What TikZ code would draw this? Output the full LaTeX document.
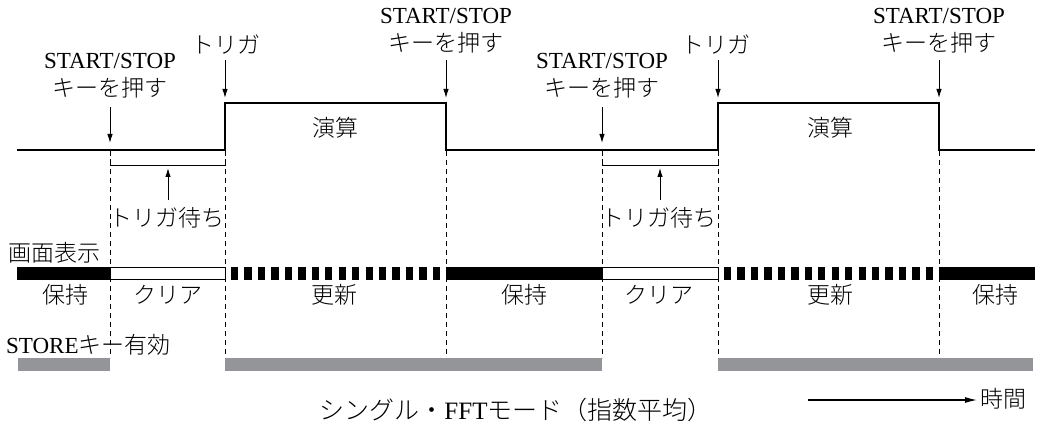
\documentclass[tikz,border=0pt]{standalone}
\usepackage{fontspec}
\setmainfont{Liberation Serif}
\newfontfamily\cjk{Noto Sans CJK JP}[UprightFont={* Light}]
\usetikzlibrary{arrows.meta}
\newcommand\jp[1]{{\cjk #1}}
\definecolor{storegray}{HTML}{939598}
\begin{document}
\begin{tikzpicture}[x=1pt,y=-1pt,
  lbl/.style={inner sep=0pt, font=\fontsize{23}{26}\selectfont},
  biglbl/.style={inner sep=0pt, font=\fontsize{25}{28}\selectfont},
  arr/.style={-{Latex[length=9pt,width=5.5pt]}, line width=1pt},
  vdash/.style={dash pattern=on 5pt off 4pt, line width=0.9pt},
  wave/.style={line width=2.4pt, line join=miter},
  sqbar/.style={line width=13pt, dash pattern=on 7.3pt off 6.15pt},
  storebar/.style={fill=storegray}]
\useasboundingbox (0,0) rectangle (1038,435);

% top labels
\node[lbl] (ss1a) at (110,61) {START/STOP};
\node[lbl] (ss1b) at (110,88) {\jp{キーを押す}};
\node[lbl] (tr1) at (226,45) {\jp{トリガ}};
\node[lbl] (ss2a) at (446,16) {START/STOP};
\node[lbl] (ss2b) at (446,43) {\jp{キーを押す}};
\node[lbl] (ss3a) at (602,61) {START/STOP};
\node[lbl] (ss3b) at (602,88) {\jp{キーを押す}};
\node[lbl] (tr2) at (716,45) {\jp{トリガ}};
\node[lbl] (ss4a) at (939,16) {START/STOP};
\node[lbl] (ss4b) at (939,43) {\jp{キーを押す}};

% arrows
\coordinate (a1s) at (110,107); \coordinate (a1e) at (110,143);
\coordinate (a2s) at (225,60);  \coordinate (a2e) at (225,98);
\coordinate (a3s) at (446,60);  \coordinate (a3e) at (446,98);
\coordinate (a4s) at (602,107); \coordinate (a4e) at (602,143);
\coordinate (a5s) at (718,60);  \coordinate (a5e) at (718,98);
\coordinate (a6s) at (939,60);  \coordinate (a6e) at (939,98);
\foreach \i in {1,...,6} {\draw[arr] (a\i s) -- (a\i e);}

% waveform
\coordinate (w0) at (17,150);
\coordinate (w1) at (225,150); \coordinate (w2) at (225,103);
\coordinate (w3) at (446,103); \coordinate (w4) at (446,150);
\coordinate (w5) at (718,150); \coordinate (w6) at (718,103);
\coordinate (w7) at (939,103); \coordinate (w8) at (939,150);
\coordinate (w9) at (1035,150);
\draw[wave] (w0) -- (w1) -- (w2) -- (w3) -- (w4) -- (w5) -- (w6) -- (w7) -- (w8) -- (w9);
\node[lbl] (calc1) at (335,128) {\jp{演算}};
\node[lbl] (calc2) at (830,128) {\jp{演算}};

% dashed verticals
\foreach \x in {110,225,446,602,718,939} {\draw[vdash] (\x,151) -- (\x,358);}

% trigger wait brackets
\draw[line width=1pt] (110,159) -- (110,166) -- (225,166) -- (225,159);
\draw[line width=1pt] (602,159) -- (602,166) -- (718,166) -- (718,159);
\coordinate (b1s) at (168,200); \coordinate (b1e) at (168,168);
\coordinate (b2s) at (660,200); \coordinate (b2e) at (660,168);
\draw[arr] (b1s) -- (b1e);
\draw[arr] (b2s) -- (b2e);
\node[lbl] (wait1) at (167,218) {\jp{トリガ待ち}};
\node[lbl] (wait2) at (659,218) {\jp{トリガ待ち}};

% display bar
\node[lbl, anchor=west] (disp) at (8,253) {\jp{画面表示}};
\fill (17,267) rectangle (110,280);
\draw[line width=1pt, fill=white] (110,267.5) rectangle (225,279.5);
\draw[sqbar] (231,273.5) -- (441,273.5);
\fill (446,267) rectangle (602,280);
\draw[line width=1pt, fill=white] (602,267.5) rectangle (718,279.5);
\draw[sqbar] (724,273.5) -- (933,273.5);
\fill (939,267) rectangle (1035,280);

\node[lbl] (hold1) at (65,295) {\jp{保持}};
\node[lbl] (clr1) at (168,295) {\jp{クリア}};
\node[lbl] (upd1) at (334,295) {\jp{更新}};
\node[lbl] (hold2) at (524,295) {\jp{保持}};
\node[lbl] (clr2) at (659,295) {\jp{クリア}};
\node[lbl] (upd2) at (830,295) {\jp{更新}};
\node[lbl] (hold3) at (995,295) {\jp{保持}};

% store bar
\node[lbl, anchor=west] (store) at (6,345) {STORE\jp{キー有効}};
\fill[storebar] (18,358) rectangle (110,371);
\fill[storebar] (225,358) rectangle (602,371);
\fill[storebar] (718,358) rectangle (1033,371);

% time arrow and caption
\node[lbl, anchor=west] (time) at (980,399) {\jp{時間}};
\coordinate (ts) at (808,400);
\draw[-{Latex[length=12pt,width=6pt]}, line width=1.1pt, shorten >=3pt] (ts) -- (ts -| time.west);
\node[biglbl] (title) at (516,410) {\jp{シングル・}FFT\jp{モード（指数平均）}};
\end{tikzpicture}
\end{document}
